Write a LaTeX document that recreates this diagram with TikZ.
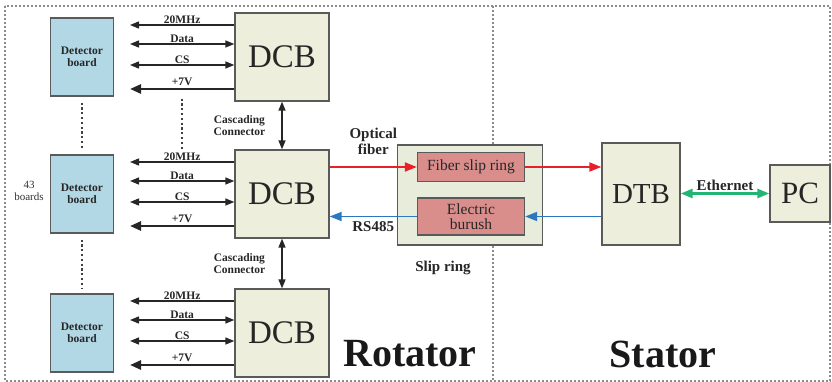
\documentclass[tikz,border=0pt]{standalone}
\usepackage{fontspec}
\setmainfont{Liberation Serif}
\usetikzlibrary{arrows.meta}
\definecolor{detfill}{HTML}{B2D8E5}
\definecolor{dcbfill}{HTML}{EDEFDC}
\definecolor{slipfill}{HTML}{E8ECDA}
\definecolor{ringfill}{HTML}{D98E8C}
\definecolor{boxline}{HTML}{5A5A5A}
\definecolor{fiberred}{HTML}{E8202A}
\definecolor{rsblue}{HTML}{2B78BE}
\definecolor{ethgreen}{HTML}{22B573}

\begin{document}
\begin{tikzpicture}[x=1pt, y=-1pt, >={Triangle[length=9pt,width=7pt]},
    box/.style={rectangle, draw=boxline, line width=1.3pt, inner sep=0pt, text=black!85},
    detbox/.style={box, fill=detfill, minimum width=63pt, minimum height=78pt, align=center, font=\fontsize{11.5}{12.5}\selectfont\bfseries},
    dcbbox/.style={box, fill=dcbfill, minimum width=94pt, minimum height=88pt, font=\fontsize{33}{35}\selectfont},
    slipbox/.style={box, fill=slipfill, minimum width=145pt, minimum height=100pt},
    ringbox/.style={box, fill=ringfill, minimum width=107pt, align=center, font=\fontsize{15.5}{15.5}\selectfont},
    sig/.style={draw=black!85, line width=1.4pt},
    power/.style={draw=black!85, line width=2.6pt, {Triangle[length=11pt,width=9pt]}-},
    ray/.style={line width=1.8pt, >={Triangle[length=12pt,width=9pt]}},
    lab/.style={font=\fontsize{11.5}{12.5}\selectfont\bfseries, inner sep=1pt, text=black!85},
    biglab/.style={font=\fontsize{15}{16}\selectfont\bfseries, inner sep=1pt, text=black!85},
    side/.style={font=\fontsize{40}{42}\selectfont\bfseries, text=black!90},
    dotline/.style={draw=black!75, line width=2.4pt, dash pattern=on 2.2pt off 2.6pt},
    frame/.style={draw=black!45, line width=1.6pt, dash pattern=on 1.8pt off 2.2pt}]
    \useasboundingbox (0,0) rectangle (832,382);

    % rotator / stator frame
    \draw[frame] (5,6) rectangle (830,381);
    \draw[frame] (493,6) -- (493,381);

    % detector boards and DCBs
    \foreach \g/\yc in {1/57, 2/194, 3/333} {
        \node[dcbbox] (dcb\g) at (282,\yc) {DCB};
        \node[detbox] (det\g) at (82,\yc) {Detector\\board};
        \coordinate (clk\g) at (130,\yc-32);
        \coordinate (dat\g) at (130,\yc-13);
        \coordinate (cs\g) at (130,\yc+8);
        \coordinate (pwr\g) at (130,\yc+32);
        \draw[sig,<-] (clk\g) -- (clk\g -| dcb\g.west) node[lab, midway, above] {20MHz};
        \draw[sig,<->] (dat\g) -- (dat\g -| dcb\g.west) node[lab, midway, above] {Data};
        \draw[sig,<->] (cs\g) -- (cs\g -| dcb\g.west) node[lab, midway, above] {CS};
        \draw[power] (pwr\g) -- (pwr\g -| dcb\g.west) node[lab, midway, above=1pt] {+7V};
    }

    \node[font=\fontsize{11}{12}\selectfont, align=center, text=black!80] (nboards) at (29,191) {43\\boards};

    \draw[dotline, shorten <=6pt, shorten >=5pt] (det1.south) -- (det2.north);
    \draw[dotline, shorten <=6pt, shorten >=5pt] (det2.south) -- (det3.north);
    \draw[dotline, shorten <=2pt, shorten >=5pt] (182,0 |- det1.south) -- (182,0 |- det2.north);

    % cascading connectors
    \draw[sig,<->] (dcb1.south) -- (dcb2.north) node[lab, midway, left=15pt, align=center] {Cascading\\Connector};
    \draw[sig,<->] (dcb2.south) -- (dcb3.north) node[lab, midway, left=15pt, align=center] {Cascading\\Connector};

    % slip ring
    \node[slipbox] (slip) at (470,195) {};
    \node[ringbox, minimum height=29pt] (fsr) at (471,167) {Fiber slip ring};
    \node[ringbox, minimum height=37pt] (brush) at (471,216.5) {Electric\\burush};
    \node[biglab] (sliplab) at (443,268) {Slip ring};

    % stator side
    \node[box, fill=dcbfill, minimum width=78pt, minimum height=102pt, font=\fontsize{29}{31}\selectfont] (dtb) at (641,194) {DTB};
    \node[box, fill=dcbfill, minimum width=60pt, minimum height=57pt, font=\fontsize{31}{33}\selectfont] (pc) at (800,193.5) {PC};

    \draw[ray, fiberred, ->] (dcb2.east |- fsr.west) -- (fsr.west) node[biglab, midway, above=10pt, align=center] {Optical\\fiber};
    \draw[ray, fiberred, ->] (fsr.east) -- (dtb.west |- fsr.east);
    \draw[ray, rsblue, ->] (dtb.west |- brush.east) -- (brush.east);
    \draw[ray, rsblue, ->] (brush.west) -- (dcb2.east |- brush.west) node[biglab, midway, below=3pt] {RS485};
    \draw[ray, ethgreen, line width=2.6pt, <->] (dtb.east |- pc.west) -- (pc.west) node[biglab, midway, above=1pt] {Ethernet};

    \node[side] (rotator) at (410,354) {Rotator};
    \node[side] (stator) at (663,354) {Stator};
\end{tikzpicture}
\end{document}
